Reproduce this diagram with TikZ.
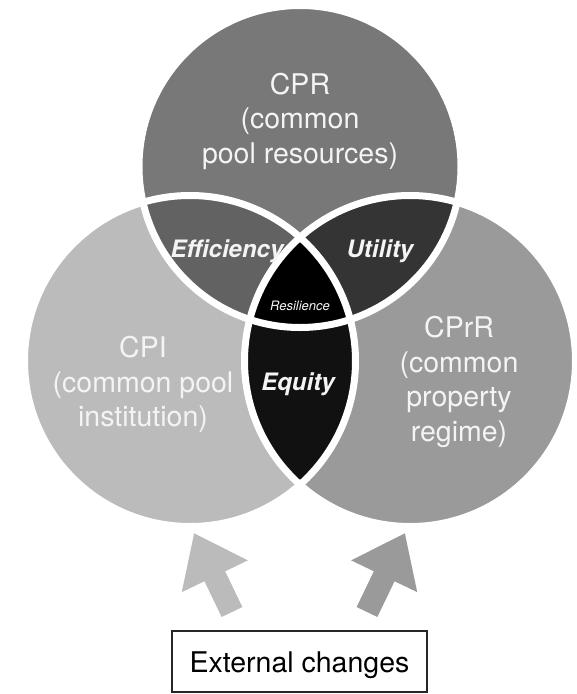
\documentclass[tikz,border=0pt]{standalone}
\usepackage{fontspec}
\setmainfont{TeX Gyre Heros}
\usetikzlibrary{arrows.meta}
\definecolor{cT}{HTML}{787878}
\definecolor{cL}{HTML}{BBBBBB}
\definecolor{cR}{HTML}{9A9A9A}
\definecolor{cTL}{HTML}{626262}
\definecolor{cTR}{HTML}{343434}
\definecolor{cLR}{HTML}{111111}
\definecolor{cRes}{HTML}{000000}
\definecolor{txtw}{HTML}{F4F4F4}
\tikzset{
  bigtext/.style={text=txtw, align=center, inner sep=0pt,
    font=\fontsize{28.5}{34.5}\selectfont},
  lenslabel/.style={text=txtw, inner sep=0pt, anchor=base,
    font=\fontsize{24}{28}\selectfont\bfseries\itshape},
  sep/.style={draw=white, line width=7pt},
  bigarrowL/.style={draw=cL, line width=23pt, -{Triangle[width=70pt,length=48pt]}},
  bigarrowR/.style={draw=cR, line width=23pt, -{Triangle[width=70pt,length=48pt]}},
  extbox/.style={draw=black!85, line width=1.4pt, minimum width=255pt, minimum height=61pt,
    inner sep=0pt, text height=27pt, text depth=6pt,
    font=\fontsize{28.5}{34.5}\selectfont}
}
\begin{document}
\begin{tikzpicture}[x=1pt,y=-1pt]
\useasboundingbox (0,0) rectangle (577,694);
\coordinate (T) at (300,166.5);
\coordinate (L) at (190,361);
\coordinate (R) at (410,361);
\def\rT{161pt}
\def\rL{165.5pt}
\def\rR{165.5pt}
% circles
\fill[cT] (T) circle[radius=\rT];
\fill[cL] (L) circle[radius=\rL];
\fill[cR] (R) circle[radius=\rR];
\begin{scope}
  \clip (T) circle[radius=\rT];
  \fill[cTL] (L) circle[radius=\rL];
  \fill[cTR] (R) circle[radius=\rR];
\end{scope}
\begin{scope}
  \clip (L) circle[radius=\rL];
  \fill[cLR] (R) circle[radius=\rR];
\end{scope}
\begin{scope}
  \clip (T) circle[radius=\rT];
  \clip (L) circle[radius=\rL];
  \fill[cRes] (R) circle[radius=\rR];
\end{scope}
\draw[sep] (T) circle[radius=\rT];
\draw[sep] (L) circle[radius=\rL];
\draw[sep] (R) circle[radius=\rR];
% circle texts
\node[bigtext] (cpr) at (300,121.3) {CPR\\(common\\pool resources)};
\node[bigtext] (cpi) at (143,384.7) {CPI\\(common pool\\institution)};
\node[bigtext] (cprr) at (459,382) {CPrR\\(common\\property\\regime)};
% lens labels
\node[lenslabel] (eff) at (227,257) {Efficiency};
\node[lenslabel] (uti) at (380,257) {Utility};
\node[lenslabel] (equ) at (298,390) {Equity};
\node[text=txtw, inner sep=0pt, anchor=base, font=\fontsize{13}{15}\selectfont\itshape] (res) at (300,310) {Resilience};
% external changes
\node[extbox] (ext) at (299.5,661.5) {External changes};
\coordinate (la0) at (232,612);
\coordinate (la1) at (194,533);
\coordinate (ra0) at (367,612);
\coordinate (ra1) at (405,533);
\draw[bigarrowL] (la0) -- (la1);
\draw[bigarrowR] (ra0) -- (ra1);
\end{tikzpicture}
\end{document}
